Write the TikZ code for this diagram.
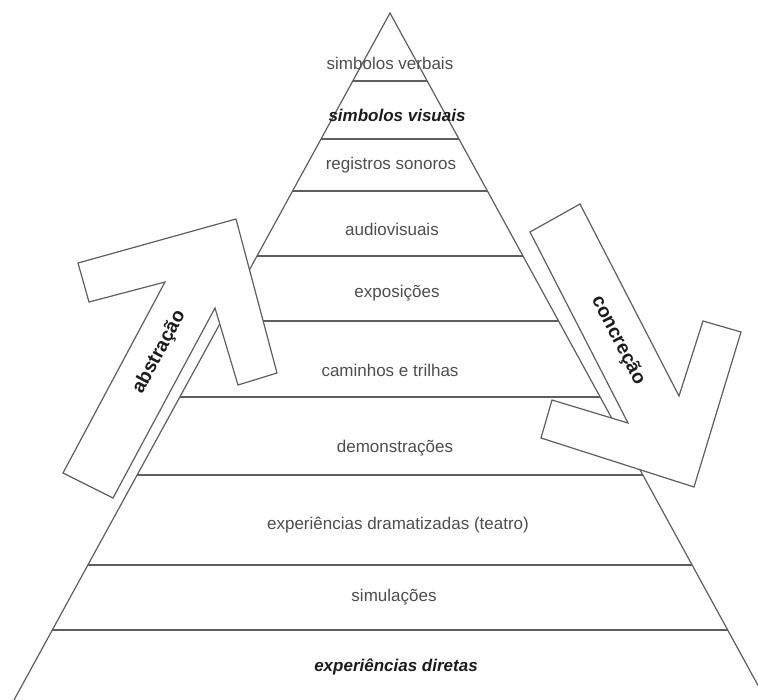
\documentclass[tikz,border=0pt]{standalone}
\usepackage{fontspec}
\setmainfont{Liberation Sans}
\usetikzlibrary{calc}
\definecolor{linegray}{HTML}{5E5E5E}
\definecolor{textgray}{HTML}{4D4D4D}
\definecolor{inkblack}{HTML}{1C1C1C}
\tikzset{
  side/.style={draw=linegray, line width=.9pt},
  tier/.style={draw=linegray, line width=1.1pt},
  blockarrow/.style={draw=linegray, fill=white, line width=.9pt, line join=miter},
  lbl/.style={font=\fontsize{12.75}{15}\selectfont, text=textgray, inner sep=1pt},
  keylbl/.style={lbl, font=\fontsize{12.75}{15}\selectfont\bfseries\itshape, text=inkblack},
  arrlbl/.style={font=\fontsize{14.5}{17}\selectfont\bfseries, text=inkblack, inner sep=1pt}
}
\begin{document}
\begin{tikzpicture}[x=.75pt, y=-.75pt]
  \useasboundingbox (0,0) rectangle (758,700);
  \clip (0,0) rectangle (758,700);
  % pyramid, open at the bottom edge of the page
  \coordinate (apex) at (390,13);
  \coordinate (bl) at (14,700);
  \coordinate (br) at (766,700);
  \draw[side] (bl) -- (apex) -- (br);
  \foreach \y in {81,139,191,256,321,397,475,565,630}
    \draw[tier] ($(apex)!{(\y-13)/687}!(bl)$) -- ($(apex)!{(\y-13)/687}!(br)$);

  \node[lbl] (verbais) at (390,63) {simbolos verbais};
  \node[keylbl] (visuais) at (397,115) {simbolos visuais};
  \node[lbl] (sonoros) at (391,165) {registros sonoros};
  \node[lbl] (audio) at (392,229) {audiovisuais};
  \node[lbl] (expo) at (397,293) {exposições};
  \node[lbl] (trilhas) at (390,370) {caminhos e trilhas};
  \node[lbl] (demo) at (395,448) {demonstrações};
  \node[lbl] (teatro) at (398,525) {experiências dramatizadas (teatro)};
  \node[lbl] (simul) at (394,597) {simulações};
  \node[keylbl] (diretas) at (396,667) {experiências diretas};

  % abstraction arrow, up the left side
  \draw[blockarrow] (63,473) -- (165,282) -- (89,302) -- (78,263) -- (236,219)
    -- (277,373) -- (238,385) -- (215,308) -- (113,498) -- cycle;
  % concretion arrow, down the right side
  \draw[blockarrow] (530,232) -- (580,204) -- (679,396) -- (703,321) -- (741,332)
    -- (694,487) -- (541,438) -- (552,400) -- (628,423) -- cycle;

  \path (88,485.5) -- node[arrlbl, sloped, pos=.70] (abstr) {abstração} (190,295);
  \path (555,218) -- node[arrlbl, sloped, pos=.64] (concr) {concreção} (653.5,409.5);
\end{tikzpicture}
\end{document}
